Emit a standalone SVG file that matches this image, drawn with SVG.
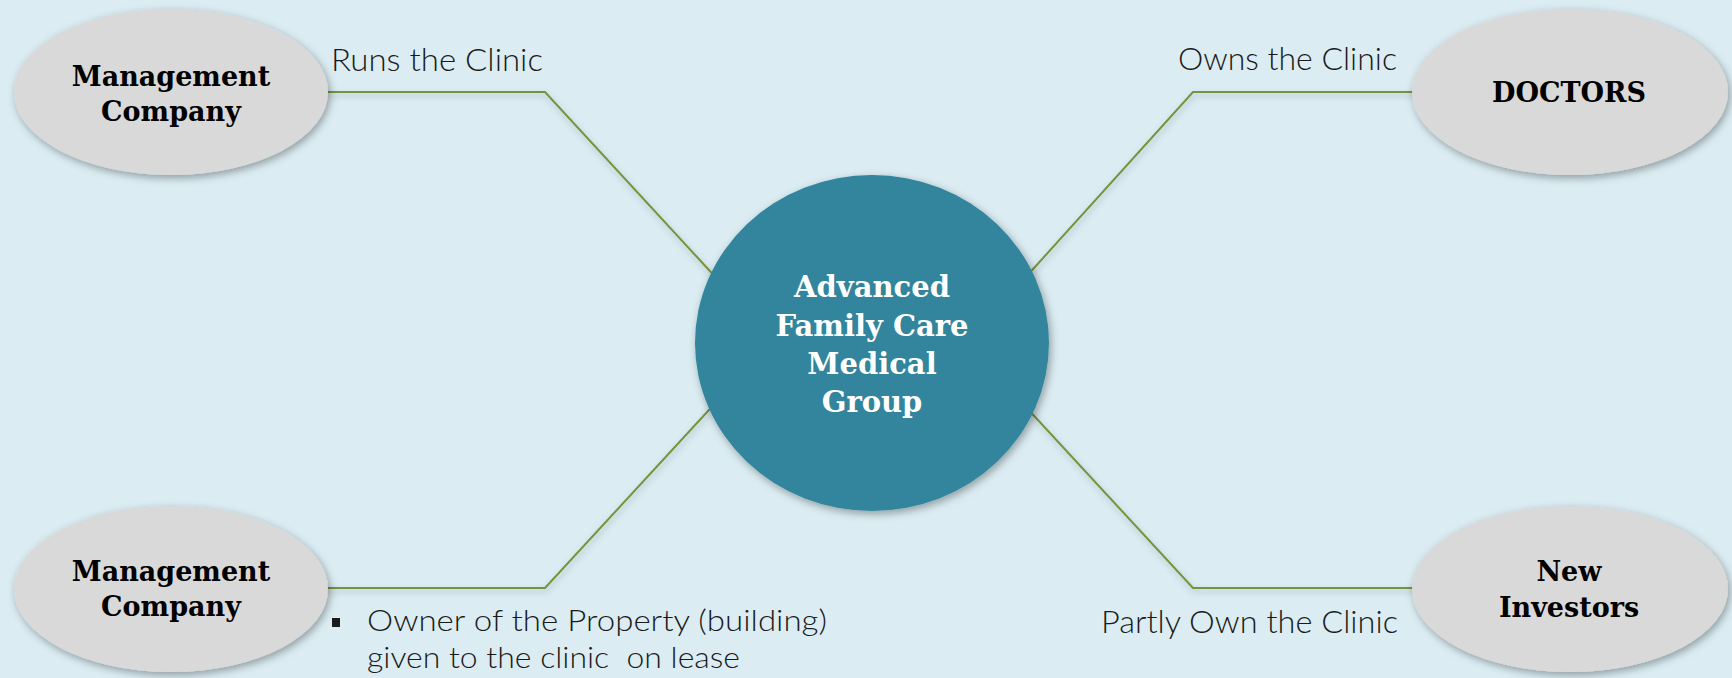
<svg xmlns="http://www.w3.org/2000/svg" width="1732" height="678" viewBox="0 0 1732 678">
<defs>
<filter id="sh" x="-20%" y="-20%" width="140%" height="150%">
<feDropShadow dx="2" dy="3" stdDeviation="4" flood-color="#000" flood-opacity="0.35"/>
</filter>
<filter id="lsh" x="-10%" y="-10%" width="120%" height="130%">
<feDropShadow dx="1" dy="3" stdDeviation="3" flood-color="#000" flood-opacity="0.25"/>
</filter>
<style>
.oval{fill:#D9D9D9;filter:url(#sh)}
.hub{fill:#31859C;filter:url(#sh)}
.nt{font-family:"DejaVu Serif","Liberation Serif",serif;font-weight:bold;font-size:27px;fill:#000;text-anchor:middle}
.ht{font-family:"DejaVu Serif","Liberation Serif",serif;font-weight:bold;font-size:29px;fill:#fff;text-anchor:middle}
.lb{font-family:Lato,"Liberation Sans",sans-serif;font-weight:300;font-size:32px;fill:#1a1a1a}
.bl{font-size:29px}
.ln{fill:none;stroke:#77933C;stroke-width:2;filter:url(#lsh)}
</style>
</defs>
<rect width="1732" height="678" fill="#DBEDF3"/>
<g id="connectors">
<polyline class="ln" points="320,92 545,92 720,282"/>
<polyline class="ln" points="1420,92 1193,92 1025,278"/>
<polyline class="ln" points="320,588 545,588 720,398"/>
<polyline class="ln" points="1420,588 1193,588 1025,406"/>
</g>
<g id="hub">
<ellipse class="hub" cx="872" cy="343" rx="177" ry="168"/>
<text class="ht" x="872" y="297">Advanced</text>
<text class="ht" x="872" y="336">Family Care</text>
<text class="ht" x="872" y="374">Medical</text>
<text class="ht" x="872" y="412">Group</text>
</g>
<g id="mgmt-top">
<ellipse class="oval" cx="171" cy="92" rx="157" ry="83"/>
<text class="nt" x="171" y="86">Management</text>
<text class="nt" x="171" y="121">Company</text>
</g>
<g id="doctors">
<ellipse class="oval" cx="1570" cy="92" rx="158" ry="83"/>
<text class="nt" x="1569" y="102">DOCTORS</text>
</g>
<g id="mgmt-bottom">
<ellipse class="oval" cx="171" cy="589" rx="157" ry="83"/>
<text class="nt" x="171" y="581">Management</text>
<text class="nt" x="171" y="616">Company</text>
</g>
<g id="investors">
<ellipse class="oval" cx="1570" cy="589" rx="158" ry="83"/>
<text class="nt" x="1569" y="581">New</text>
<text class="nt" x="1569" y="617">Investors</text>
</g>
<g id="labels">
<text class="lb" x="331" y="71" textLength="212" lengthAdjust="spacingAndGlyphs">Runs the Clinic</text>
<text class="lb" x="1178" y="70" textLength="219" lengthAdjust="spacingAndGlyphs">Owns the Clinic</text>
<rect x="332" y="618" width="8" height="9" fill="#1a1a1a"/>
<text class="lb bl" x="367" y="631" textLength="460" lengthAdjust="spacingAndGlyphs">Owner of the Property (building)</text>
<text class="lb bl" x="367" y="668" textLength="373" lengthAdjust="spacingAndGlyphs" xml:space="preserve">given to the clinic  on lease</text>
<text class="lb" x="1101" y="633" textLength="297" lengthAdjust="spacingAndGlyphs">Partly Own the Clinic</text>
</g>
</svg>
